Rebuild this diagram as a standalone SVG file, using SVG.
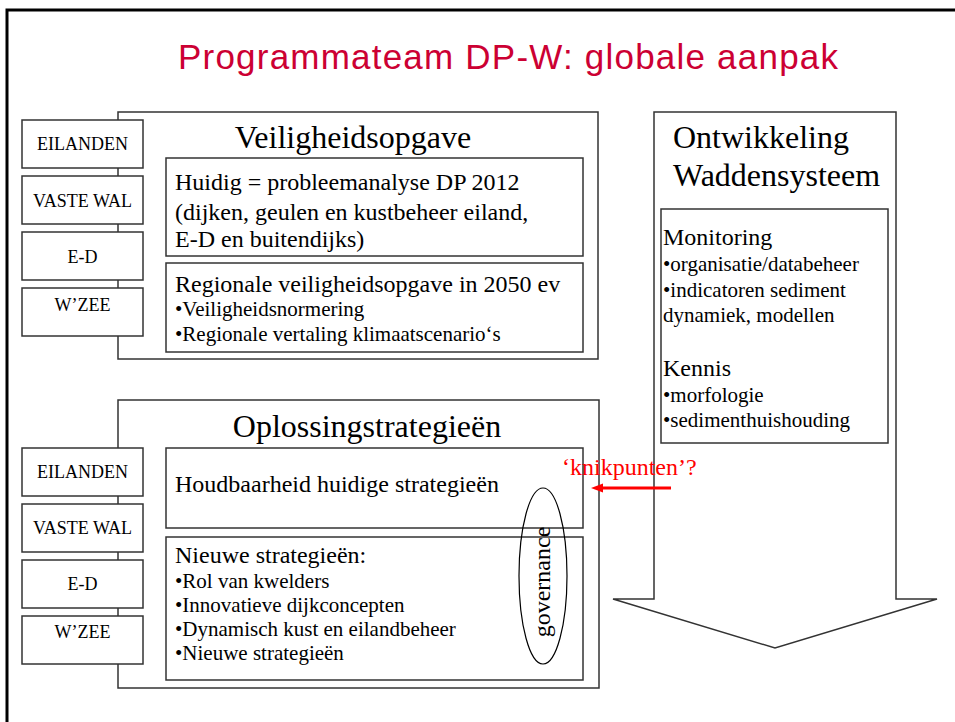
<svg xmlns="http://www.w3.org/2000/svg" width="955" height="722" viewBox="0 0 955 722">
<style>
.box{fill:#fff;stroke:#333;stroke-width:1.5}
.big{fill:none;stroke:#333;stroke-width:1.5}
.lbl{font-family:"Liberation Serif","Times New Roman",serif;font-size:18px;fill:#000;text-anchor:middle}
.hd{font-family:"Liberation Serif","Times New Roman",serif;font-size:32px;fill:#000}
.t24{font-family:"Liberation Serif","Times New Roman",serif;font-size:24px;fill:#000}
.t21{font-family:"Liberation Serif","Times New Roman",serif;font-size:21px;fill:#000}
</style>
<rect width="955" height="722" fill="#fff"/>
<path d="M7,722 V10 H955" fill="none" stroke="#000" stroke-width="3"/>
<text x="178" y="69" textLength="660" lengthAdjust="spacing" font-family="'Liberation Sans',Arial,sans-serif" font-size="35" fill="#CC0033">Programmateam DP-W: globale aanpak</text>

<g id="veiligheidsopgave">
<rect class="big" x="118" y="112" width="480" height="247"/>
<text class="hd" x="353" y="148" text-anchor="middle">Veiligheidsopgave</text>
</g>
<g id="huidig">
<rect class="box" x="166" y="158" width="417" height="98"/>
<text class="t24" x="175" y="190">Huidig = probleemanalyse DP 2012</text>
<text class="t24" x="175" y="220">(dijken, geulen en kustbeheer eiland,</text>
<text class="t24" x="175" y="247">E-D en buitendijks)</text>
</g>
<g id="regionaal">
<rect class="box" x="166" y="263" width="417" height="89"/>
<text class="t24" x="175" y="292">Regionale veiligheidsopgave in 2050 ev</text>
<text class="t21" x="175" y="316">•Veiligheidsnormering</text>
<text class="t21" x="175" y="341">•Regionale vertaling klimaatscenario‘s</text>
</g>
<g id="up-eilanden"><rect class="box" x="22" y="120" width="121" height="48"/><text class="lbl" x="82.5" y="150">EILANDEN</text></g>
<g id="up-vastewal"><rect class="box" x="22" y="176" width="121" height="48"/><text class="lbl" x="82.5" y="207">VASTE WAL</text></g>
<g id="up-ed"><rect class="box" x="22" y="232" width="121" height="48"/><text class="lbl" x="82.5" y="263">E-D</text></g>
<g id="up-wzee"><rect class="box" x="22" y="288" width="121" height="48"/><text class="lbl" x="82.5" y="311">W’ZEE</text></g>

<g id="oplossing">
<rect class="big" x="118" y="400" width="481" height="288"/>
<text class="hd" x="367" y="437" text-anchor="middle">Oplossingstrategieën</text>
</g>
<g id="houdbaarheid">
<rect class="box" x="166" y="448" width="417" height="80"/>
<text class="t24" x="175" y="492">Houdbaarheid huidige strategieën</text>
</g>
<g id="nieuwe">
<rect class="box" x="166" y="537" width="417" height="143"/>
<text class="t24" x="175" y="563">Nieuwe strategieën:</text>
<text class="t21" x="175" y="588">•Rol van kwelders</text>
<text class="t21" x="175" y="612">•Innovatieve dijkconcepten</text>
<text class="t21" x="175" y="636">•Dynamisch kust en eilandbeheer</text>
<text class="t21" x="175" y="660">•Nieuwe strategieën</text>
</g>
<g id="governance">
<ellipse cx="543" cy="576" rx="24" ry="88" fill="none" stroke="#000" stroke-width="1.2"/>
<text class="t24" font-size="26" text-anchor="middle" transform="translate(550,582) rotate(-90)">governance</text>
</g>
<g id="lo-eilanden"><rect class="box" x="22" y="448" width="121" height="48"/><text class="lbl" x="82.5" y="478">EILANDEN</text></g>
<g id="lo-vastewal"><rect class="box" x="22" y="504" width="121" height="48"/><text class="lbl" x="82.5" y="534">VASTE WAL</text></g>
<g id="lo-ed"><rect class="box" x="22" y="560" width="121" height="48"/><text class="lbl" x="82.5" y="590">E-D</text></g>
<g id="lo-wzee"><rect class="box" x="22" y="616" width="121" height="48"/><text class="lbl" x="82.5" y="638">W’ZEE</text></g>

<g id="ontwikkeling">
<polygon points="654,112 896,112 896,599 937,599 775,648 613,599 654,599" fill="#fff" stroke="#333" stroke-width="1.5"/>
<text class="hd" x="673" y="148">Ontwikkeling</text>
<text class="hd" x="673" y="186">Waddensysteem</text>
</g>
<g id="monitoring">
<rect class="box" x="661" y="209" width="227" height="234"/>
<text class="t24" x="663" y="245">Monitoring</text>
<text class="t21" x="663" y="271">•organisatie/databeheer</text>
<text class="t21" x="663" y="297">•indicatoren sediment</text>
<text class="t21" x="663" y="322">dynamiek, modellen</text>
<text class="t24" x="663" y="376">Kennis</text>
<text class="t21" x="663" y="402">•morfologie</text>
<text class="t21" x="663" y="427">•sedimenthuishouding</text>
</g>

<g id="connectors">
<line x1="671" y1="488" x2="600" y2="488" stroke="#FF0000" stroke-width="3"/>
<polygon points="591,488 603,483.5 603,492.5" fill="#FF0000"/>
<text x="562" y="475" font-family="'Liberation Serif','Times New Roman',serif" font-size="24" fill="#FF0000">‘knikpunten’?</text>
</g>
</svg>
